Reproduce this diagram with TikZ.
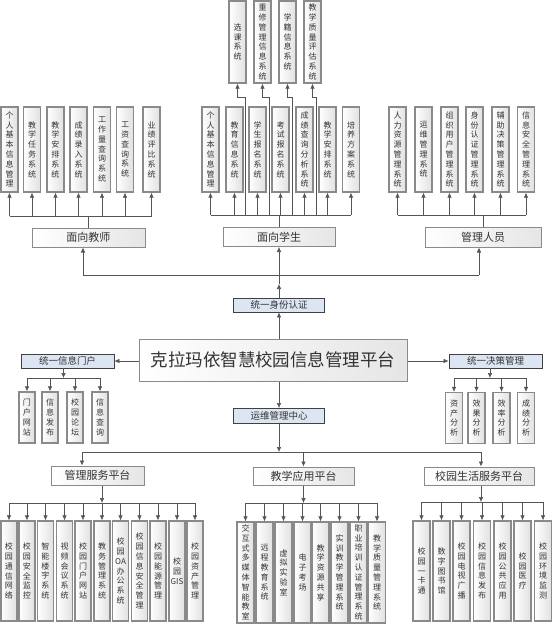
\documentclass[tikz,border=0pt]{standalone}
\usepackage{fontspec}
\newfontfamily\cjk{Noto Sans CJK SC}
\usetikzlibrary{arrows.meta}
\definecolor{bordergray}{HTML}{8A8A8A}
\definecolor{linegray}{HTML}{555555}
\definecolor{bluefill}{HTML}{DCE5F2}
\definecolor{txt}{HTML}{333333}
\begin{document}
\begin{tikzpicture}[x=1pt,y=-1pt,
  vbox/.style={draw=bordergray, line width=1.3pt, left color=white, right color=black!12,
    minimum width=17pt, inner sep=0pt, align=center, text=txt,
    font=\cjk\fontsize{8}{9.8}\selectfont},
  vtop/.style={vbox, minimum height=82pt},
  vmid/.style={vbox, minimum height=85pt},
  vsmall/.style={vbox, minimum width=16pt, minimum height=51pt},
  vbot/.style={vbox, minimum width=16pt, minimum height=100pt},
  hbox/.style={draw=bordergray, line width=1pt, left color=white, right color=black!10,
    inner sep=0pt, text=txt, font=\cjk\fontsize{11}{13}\selectfont},
  bluebox/.style={draw=black!75, line width=0.8pt, fill=bluefill, inner sep=0pt,
    minimum height=14pt, text=txt, font=\cjk\fontsize{9.5}{11}\selectfont},
  arr/.style={draw=linegray, line width=0.6pt, -{Latex[length=5pt,width=4.5pt]}},
  ln/.style={draw=linegray, line width=0.6pt}]
\fill[white] (0,0) rectangle (553,625);
\useasboundingbox (0,0) rectangle (553,625);

% ---------- teachers ----------
\node[vmid] (ta1) at (9.5,149.5) {个\\人\\基\\本\\信\\息\\管\\理};
\node[vmid] (ta2) at (32,149.5) {教\\学\\任\\务\\系\\统};
\node[vmid] (ta3) at (55.5,149.5) {教\\学\\安\\排\\系\\统};
\node[vmid] (ta4) at (78.5,149.5) {成\\绩\\录\\入\\系\\统};
\node[vmid] (ta5) at (102,149.5) {工\\作\\量\\查\\询\\系\\统};
\node[vmid] (ta6) at (125,149.5) {工\\资\\查\\询\\系\\统};
\node[vmid] (ta7) at (151.5,149.5) {业\\绩\\评\\比\\系\\统};
\node[hbox, minimum width=113pt, minimum height=19pt] (jiaoshi) at (88.5,237.5) {面向教师};
\coordinate (tb) at (88.5,216);
\draw[ln] (jiaoshi.north) -- (tb);
\draw[ln] (ta1 |- tb) -- (ta7 |- tb);
\foreach \n in {ta1,ta2,ta3,ta4,ta5,ta6,ta7} \draw[arr] (\n |- tb) -- (\n.south);

% ---------- students ----------
\node[vtop] (su1) at (237.5,42) {选\\课\\系\\统};
\node[vtop] (su2) at (262.5,42) {重\\修\\管\\理\\信\\息\\系\\统};
\node[vtop] (su3) at (287.5,42) {学\\籍\\信\\息\\系\\统};
\node[vtop] (su4) at (312.5,42) {教\\学\\质\\量\\评\\估\\系\\统};
\node[vmid] (sa1) at (210.5,149.5) {个\\人\\基\\本\\信\\息\\管\\理};
\node[vmid] (sa2) at (234.5,149.5) {教\\育\\信\\息\\系\\统};
\node[vmid] (sa3) at (257.5,149.5) {学\\生\\报\\名\\系\\统};
\node[vmid] (sa4) at (280.5,149.5) {考\\试\\报\\名\\系\\统};
\node[vmid] (sa5) at (304.5,149.5) {成\\绩\\查\\询\\分\\析\\系\\统};
\node[vmid] (sa6) at (327.5,149.5) {教\\学\\安\\排\\系\\统};
\node[vmid] (sa7) at (351,149.5) {培\\养\\方\\案\\系\\统};
\node[hbox, minimum width=112pt, minimum height=19pt] (xuesheng) at (279,237) {面向学生};
\coordinate (sb) at (279,215);
\draw[ln] (xuesheng.north) -- (sb);
\draw[ln] (sa1 |- sb) -- (sa7 |- sb);
\foreach \n in {sa1,sa2,sa3,sa4,sa5,sa6,sa7} \draw[arr] (\n |- sb) -- (\n.south);
\coordinate (j1) at (245.5,97);
\coordinate (j2) at (269,97);
\coordinate (j3) at (292.5,97);
\coordinate (j4) at (316,97);
\draw[arr] (j1 |- sb) -- (j1) -| (su1.south);
\draw[arr] (j2 |- sb) -- (j2) -| (su2.south);
\draw[arr] (j3 |- sb) -- (j3) -| (su3.south);
\draw[arr] (j4 |- sb) -- (j4) -| (su4.south);

% ---------- administrators ----------
\node[vmid] (ma1) at (397.5,149.5) {人\\力\\资\\源\\管\\理\\系\\统};
\node[vmid] (ma2) at (423.5,149.5) {运\\维\\管\\理\\系\\统};
\node[vmid] (ma3) at (449.5,149.5) {组\\织\\用\\户\\管\\理\\系\\统};
\node[vmid] (ma4) at (474.5,149.5) {身\\份\\认\\证\\管\\理\\系\\统};
\node[vmid] (ma5) at (500.5,149.5) {辅\\助\\决\\策\\管\\理\\系\\统};
\node[vmid] (ma6) at (526,149.5) {信\\息\\安\\全\\管\\理\\系\\统};
\node[hbox, minimum width=116pt, minimum height=20pt] (guanli) at (483,237) {管理人员};
\coordinate (mb) at (483,215);
\draw[ln] (guanli.north) -- (mb);
\draw[ln] (ma1 |- mb) -- (ma6 |- mb);
\foreach \n in {ma1,ma2,ma3,ma4,ma5,ma6} \draw[arr] (\n |- mb) -- (\n.south);

% ---------- identity ----------
\coordinate (lb) at (279,275);
\coordinate (lbL) at (83,275);
\coordinate (lbR) at (479,275);
\draw[ln] (lbL) -- (lbR);
\draw[arr] (lbL) -- (lbL |- jiaoshi.south);
\draw[arr] (lb) -- (xuesheng.south);
\draw[arr] (lbR) -- (lbR |- guanli.south);
\node[bluebox, minimum width=91pt] (sfrz) at (279,305) {统一身份认证};
\coordinate (sm) at (279,284);
\draw[arr] (sfrz.north) -- (sm);
\draw[ln] (sm) -- (lb);

% ---------- main ----------
\node[hbox, minimum width=268pt, minimum height=42pt, font=\cjk\fontsize{17.5}{20}\selectfont] (main) at (273,360) {克拉玛依智慧校园信息管理平台};
\draw[arr] (main.north -| sfrz) -- (sfrz.south);
\node[bluebox, minimum width=93pt] (mh) at (67.5,361) {统一信息门户};
\node[bluebox, minimum width=93pt] (jc) at (495.5,361) {统一决策管理};
\draw[arr] (main.west |- mh.east) -- (mh.east);
\draw[arr] (main.east |- jc.west) -- (jc.west);

% portal children
\node[vsmall] (mc1) at (27,417.5) {门\\户\\网\\站};
\node[vsmall] (mc2) at (50,417.5) {信\\息\\发\\布};
\node[vsmall] (mc3) at (75,417.5) {校\\园\\论\\坛};
\node[vsmall] (mc4) at (100,417.5) {信\\息\\查\\询};
\coordinate (pb) at (63.5,378);
\draw[arr] (pb |- mh.south) -- (pb);
\draw[ln] (mc1 |- pb) -- (mc4 |- pb);
\foreach \n in {mc1,mc2,mc3,mc4} \draw[arr] (\n |- pb) -- (\n.north);

% decision children
\node[vsmall, minimum width=17pt] (jd1) at (454,418) {资\\产\\分\\析};
\node[vsmall, minimum width=17pt] (jd2) at (476.5,418) {效\\果\\分\\析};
\node[vsmall, minimum width=17pt] (jd3) at (501.5,418) {效\\率\\分\\析};
\node[vsmall, minimum width=17pt] (jd4) at (526,418) {成\\绩\\分\\析};
\coordinate (db) at (490,378);
\draw[arr] (db |- jc.south) -- (db);
\draw[ln] (jd1 |- db) -- (jd4 |- db);
\foreach \n in {jd1,jd2,jd3,jd4} \draw[arr] (\n |- db) -- (\n.north);

% ---------- operations ----------
\node[bluebox, minimum width=91pt, minimum height=15pt] (ywgl) at (279,416) {运维管理中心};
\draw[arr] (main.south -| ywgl) -- (ywgl.north);
\coordinate (bb) at (279,452);
\coordinate (bbL) at (82,452);
\coordinate (bbM) at (303.5,452);
\coordinate (bbR) at (481,452);
\draw[arr] (ywgl.south) -- (bb);
\draw[ln] (bbL) -- (bbR);

\node[hbox, minimum width=93pt, minimum height=19pt] (gl) at (97.5,475.5) {管理服务平台};
\node[hbox, minimum width=101pt, minimum height=18pt] (jx) at (303.5,476) {教学应用平台};
\node[hbox, minimum width=110pt, minimum height=18pt] (sh) at (479,476) {校园生活服务平台};
\draw[arr] (bbL) -- (bbL |- gl.north);
\draw[arr] (bbM) -- (jx.north);
\draw[arr] (bbR) -- (bbR |- sh.north);

% management platform children
\node[vbot] (ga1) at (9,571) {校\\园\\通\\信\\网\\络};
\node[vbot] (ga2) at (27,571) {校\\园\\安\\全\\监\\控};
\node[vbot] (ga3) at (45.5,571) {智\\能\\楼\\宇\\系\\统};
\node[vbot] (ga4) at (64.5,571) {视\\频\\会\\议\\系\\统};
\node[vbot] (ga5) at (83,571) {校\\园\\门\\户\\网\\站};
\node[vbot] (ga6) at (102,571) {教\\务\\管\\理\\系\\统};
\node[vbot] (ga7) at (120.5,571) {校\\园\\OA\\办\\公\\系\\统};
\node[vbot] (ga8) at (139.5,571) {校\\园\\信\\息\\安\\全\\管\\理};
\node[vbot] (ga9) at (158,571) {校\\园\\能\\源\\管\\理};
\node[vbot] (ga10) at (177,571) {校\\园\\GIS};
\node[vbot] (ga11) at (195,571) {校\\园\\资\\产\\管\\理};
\coordinate (gb) at (102,503);
\draw[arr] (gb |- gl.south) -- (gb);
\draw[ln] (ga1 |- gb) -- (ga11 |- gb);
\foreach \n in {ga1,ga2,ga3,ga4,ga5,ga6,ga7,ga8,ga9,ga10,ga11} \draw[arr] (\n |- gb) -- (\n.north);

% teaching platform children
\node[vbot, minimum width=17pt, minimum height=101pt] (xa1) at (245.5,572.5) {交\\互\\式\\多\\媒\\体\\智\\能\\教\\室};
\node[vbot, minimum width=17pt, minimum height=101pt] (xa2) at (264.5,572.5) {远\\程\\教\\育\\系\\统};
\node[vbot, minimum width=17pt, minimum height=101pt] (xa3) at (283.5,572.5) {虚\\拟\\实\\验\\室};
\node[vbot, minimum width=17pt, minimum height=101pt] (xa4) at (302.5,572.5) {电\\子\\考\\场};
\node[vbot, minimum width=17pt, minimum height=101pt] (xa5) at (320.5,572.5) {教\\学\\资\\源\\共\\享};
\node[vbot, minimum width=17pt, minimum height=101pt] (xa6) at (339.5,572.5) {实\\训\\教\\学\\管\\理\\系\\统};
\node[vbot, minimum width=17pt, minimum height=101pt] (xa7) at (358.5,572.5) {职\\业\\培\\训\\认\\证\\管\\理\\系\\统};
\node[vbot, minimum width=17pt, minimum height=101pt] (xa8) at (377,572.5) {教\\学\\质\\量\\管\\理\\系\\统};
\coordinate (xb) at (303.5,503);
\draw[arr] (jx.south) -- (xb);
\draw[ln] (xa1 |- xb) -- (xa8 |- xb);
\foreach \n in {xa1,xa2,xa3,xa4,xa5,xa6,xa7,xa8} \draw[arr] (\n |- xb) -- (\n.north);

% campus life children
\node[vbot, minimum width=17pt] (ha1) at (421.5,571) {校\\园\\一\\卡\\通};
\node[vbot, minimum width=17pt] (ha2) at (441.5,571) {数\\字\\图\\书\\馆};
\node[vbot, minimum width=17pt] (ha3) at (461.5,571) {校\\园\\电\\视\\广\\播};
\node[vbot, minimum width=17pt] (ha4) at (482,571) {校\\园\\信\\息\\发\\布};
\node[vbot, minimum width=17pt] (ha5) at (502.5,571) {校\\园\\公\\共\\应\\用};
\node[vbot, minimum width=17pt] (ha6) at (522.5,571) {校\\园\\医\\疗};
\node[vbot, minimum width=17pt] (ha7) at (543,571) {校\\园\\环\\境\\监\\测};
\coordinate (hb) at (481,502);
\draw[arr] (hb |- sh.south) -- (hb);
\draw[ln] (ha1 |- hb) -- (ha7 |- hb);
\foreach \n in {ha1,ha2,ha3,ha4,ha5,ha6,ha7} \draw[arr] (\n |- hb) -- (\n.north);
\end{tikzpicture}
\end{document}
